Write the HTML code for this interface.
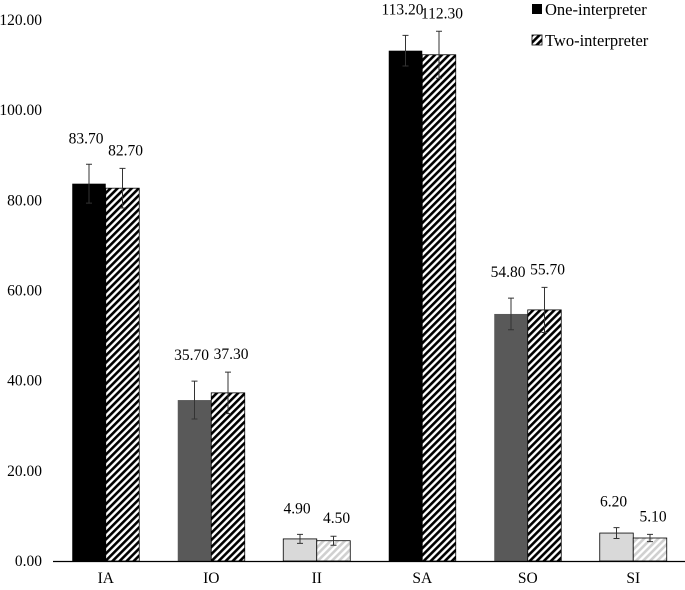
<!DOCTYPE html>
<html><head><meta charset="utf-8"><style>
body{margin:0;background:#fff}
svg text{font-family:"Liberation Serif",serif;font-size:15.5px;fill:#000}
</style></head><body>
<svg id="chart" width="685" height="585" viewBox="0 0 685 585">
<defs>
<pattern id="hatch" patternUnits="userSpaceOnUse" width="5" height="5" patternTransform="rotate(45)">
<rect width="5" height="5" fill="#fff"/><rect width="2.6" height="5" fill="#000"/></pattern>
<pattern id="hatchLight" patternUnits="userSpaceOnUse" width="5" height="5" patternTransform="rotate(45)">
<rect width="5" height="5" fill="#fff"/><rect width="2.6" height="5" fill="#d0d0d0"/></pattern>
</defs>
<g id="plot"></g>
<g>
<rect x="532" y="4" width="10" height="10" fill="#000"/>
<text x="545" y="15" style="font-size:16.5px">One-interpreter</text>
<rect x="532" y="35" width="10" height="10" fill="url(#hatch)" stroke="#000" stroke-width="0.8"/>
<text x="545" y="46" style="font-size:16.5px">Two-interpreter</text>
</g>
</svg>
<script>
const categories=["IA","IO","II","SA","SO","SI"];
const oneValues=[83.7,35.7,4.9,113.2,54.8,6.2];
const twoValues=[82.7,37.3,4.5,112.3,55.7,5.1];
const oneErrors=[4.3,4.2,1.0,3.4,3.5,1.2];
const twoErrors=[4.4,4.6,1.0,5.2,5.0,0.8];
const yTicks=[0,20,40,60,80,100,120];
const oneFills=["#000","#595959","#d9d9d9","#000","#595959","#d9d9d9"];
const twoFills=["url(#hatch)","url(#hatch)","url(#hatchLight)","url(#hatch)","url(#hatch)","url(#hatchLight)"];

const NS="http://www.w3.org/2000/svg";
const g=document.getElementById('plot');
const y0=561,ppu=4.508,x0=53,step=105.5,bw=33.5;
const yS=v=>y0-v*ppu;
const xC=i=>x0+step*(i+0.5);
function mk(t,a,txt){const e=document.createElementNS(NS,t);for(const k in a)e.setAttribute(k,a[k]);if(txt!==undefined)e.textContent=txt;g.appendChild(e);return e;}
yTicks.forEach(t=>{
  const e=mk('text',{x:42,y:yS(t)+5,'text-anchor':'end'},t.toFixed(2));
  
  
});
function bar(i,v,err,fill,left,name){
  const x=left?xC(i)-bw:xC(i);
  const r=mk('rect',{x:x,y:yS(v),width:bw,height:y0-yS(v),fill:fill,stroke:fill.startsWith('url')||fill==='#d9d9d9'?'#000':'none','stroke-width':0.8});
  
  
  const cx=x+bw/2,t=yS(v+err),b=yS(v-err);
  const eb=mk('path',{d:`M${cx},${t}V${b}M${cx-3},${t}H${cx+3}M${cx-3},${b}H${cx+3}`,stroke:'#333','stroke-width':1,fill:'none'});
  
  
  const lb=mk('text',{x:cx+(left?-3:3),y:t-(left?21:13),'text-anchor':'middle'},v.toFixed(2));
  
  
}
categories.forEach((c,i)=>{
  bar(i,oneValues[i],oneErrors[i],oneFills[i],true,'bar-one-'+c.toLowerCase());
  bar(i,twoValues[i],twoErrors[i],twoFills[i],false,'bar-two-'+c.toLowerCase());
  const t=mk('text',{x:xC(i),y:583,'text-anchor':'middle'},c);
  
  
});
const ax=mk('line',{x1:x0,x2:685,y1:y0+0.5,y2:y0+0.5,stroke:'#000','stroke-width':1.2});


</script>
</body></html>
